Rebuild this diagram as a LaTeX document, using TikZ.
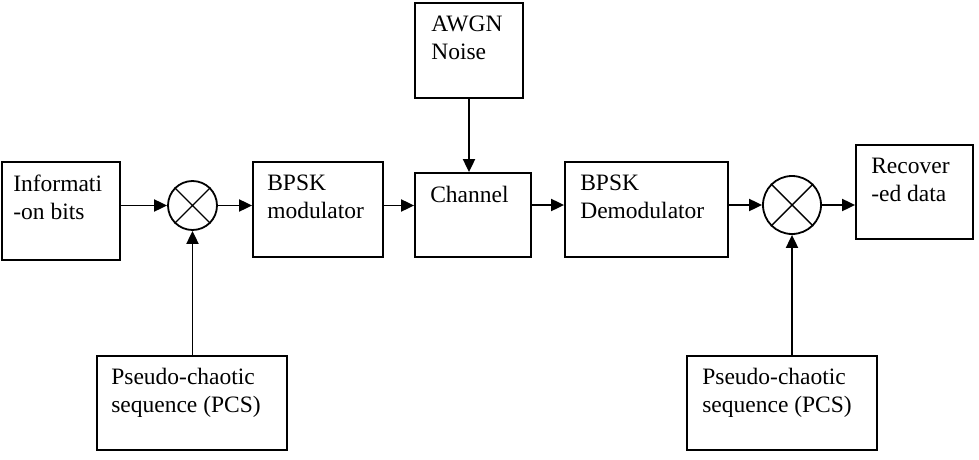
\documentclass[tikz,border=0pt]{standalone}
\usepackage{fontspec}
\setmainfont{Liberation Serif}
\usepackage{tikz}
\usetikzlibrary{arrows.meta}

\begin{document}
\begin{tikzpicture}[x=1pt, y=-1pt,
    blk/.style={draw, line width=1.8pt, inner sep=0pt},
    txt/.style={anchor=north west, align=left, inner sep=0pt, font=\fontsize{23.5}{28}\selectfont},
    mixer/.style={draw, circle, line width=1.8pt, inner sep=0pt},
    arr/.style={line width=1.9pt, -{Triangle[length=13pt,width=12pt]}}]
        \useasboundingbox (0,0) rectangle (979,460);
        % blocks
        \node[blk, minimum width=118pt, minimum height=98pt] (info) at (61,211) {};
        \node[txt] (infotxt) at ([shift={(12,14)}]info.north west) {Informati\\-on bits};
        \node[mixer, minimum size=49pt] (mix1) at (192.5,205.5) {};
        \node[blk, minimum width=130pt, minimum height=95pt] (mod) at (318,209.5) {};
        \node[txt] (modtxt) at ([shift={(15,14)}]mod.north west) {BPSK\\modulator};
        \node[blk, minimum width=116pt, minimum height=84pt] (chan) at (473,215) {};
        \node[txt] (chantxt) at ([shift={(16,14)}]chan.north west) {Channel};
        \node[blk, minimum width=108pt, minimum height=95pt] (awgn) at (469,50.5) {};
        \node[txt] (awgntxt) at ([shift={(17,14)}]awgn.north west) {AWGN\\Noise};
        \node[blk, minimum width=163pt, minimum height=95pt] (demod) at (646.5,209.5) {};
        \node[txt] (demodtxt) at ([shift={(16,14)}]demod.north west) {BPSK\\Demodulator};
        \node[mixer, minimum size=58pt] (mix2) at (792,205) {};
        \node[blk, minimum width=117pt, minimum height=94pt] (rec) at (914.5,192) {};
        \node[txt] (rectxt) at ([shift={(16,14)}]rec.north west) {Recover\\-ed data};
        \node[blk, minimum width=190pt, minimum height=94pt] (pcsa) at (192,403) {};
        \node[txt] (pcsatxt) at ([shift={(15,13)}]pcsa.north west) {Pseudo-chaotic\\sequence (PCS)};
        \node[blk, minimum width=190pt, minimum height=94pt] (pcsb) at (782,403) {};
        \node[txt] (pcsbtxt) at ([shift={(16,13)}]pcsb.north west) {Pseudo-chaotic\\sequence (PCS)};
        % crosses
        \draw[line width=1.4pt] (mix1.north east) -- (mix1.south west) (mix1.north west) -- (mix1.south east);
        \draw[line width=1.4pt] (mix2.north east) -- (mix2.south west) (mix2.north west) -- (mix2.south east);
        % connectors
        \draw[arr] (info.east |- mix1.west) -- (mix1.west);
        \draw[arr] (mix1.east) -- (mod.west |- mix1.east);
        \draw[arr] (mod.east |- mix1.east) -- (chan.west |- mix1.east);
        \draw[arr] (chan.east |- mix2.west) -- (demod.west |- mix2.west);
        \draw[arr] (demod.east |- mix2.west) -- (mix2.west);
        \draw[arr] (mix2.east) -- (rec.west |- mix2.east);
        \draw[arr] (awgn.south) -- (awgn.south |- chan.north);
        \draw[arr] (mix1.south |- pcsa.north) -- (mix1.south);
        \draw[arr] (mix2.south |- pcsb.north) -- (mix2.south);
      \end{tikzpicture}
\end{document}
